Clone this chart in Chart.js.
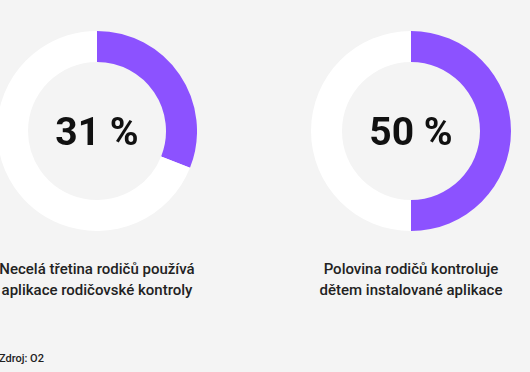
<!DOCTYPE html>
<html>
<head>
<meta charset="utf-8">
<script src="https://cdn.jsdelivr.net/npm/chart.js@4"></script>
<style>
  html, body { margin: 0; padding: 0; }
  body { width: 530px; height: 372px; background: #f4f4f4; position: relative; overflow: hidden; font-family: Roboto, "Noto Sans", sans-serif; }
  .wrap { position: absolute; top: 31px; width: 200px; height: 200px; }
  .wrap canvas { position: absolute; left: 0; top: 0; }
  .center { position: absolute; left: 0; top: 1px; width: 200px; height: 200px; display: flex; align-items: center; justify-content: center; font-size: 39px; font-weight: 700; color: #111; }
  .label { position: absolute; top: 259px; width: 260px; text-align: center; font-size: 15px; font-weight: 500; color: #222; line-height: 21px; }
  .source { position: absolute; left: -1px; top: 352px; font-size: 11px; font-weight: 500; color: #222; }
</style>
</head>
<body>
<div class="wrap" id="w0" style="left:-3px"><canvas id="c0" width="200" height="200"></canvas><div class="center" id="t0"></div></div>
<div class="wrap" id="w1" style="left:311px"><canvas id="c1" width="200" height="200"></canvas><div class="center" id="t1"></div></div>
<div class="label" id="l0" style="left:-33px"></div>
<div class="label" id="l1" style="left:281px"></div>
<div class="source" id="src"></div>
<script>
const shares = [31, 50];
const captions = [
  ["Necelá třetina rodičů používá", "aplikace rodičovské kontroly"],
  ["Polovina rodičů kontroluje", "dětem instalované aplikace"]
];
const sourceText = "Zdroj: O2";
const colors = ["#8c52ff", "#ffffff"];

shares.forEach((v, i) => {
  new Chart(document.getElementById('c' + i), {
    type: 'doughnut',
    data: {
      labels: ['ano', 'ne'],
      datasets: [{ data: [v, 100 - v], backgroundColor: colors, borderWidth: 0, hoverOffset: 0 }]
    },
    options: {
      responsive: false,
      animation: false,
      cutout: '69%',
      layout: { padding: 0 },
      plugins: { legend: { display: false }, tooltip: { enabled: false } },
      events: []
    }
  });
  document.getElementById('t' + i).textContent = v + ' %';
  document.getElementById('l' + i).innerHTML = captions[i].join('<br>');
});
document.getElementById('src').textContent = sourceText;
</script>
</body>
</html>
